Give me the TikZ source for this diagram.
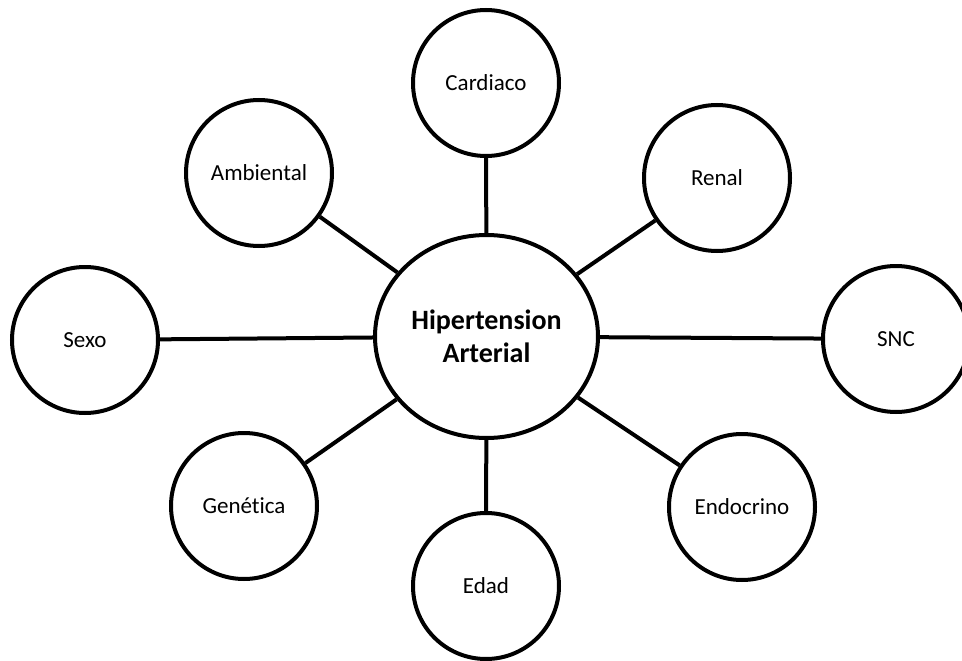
\documentclass[tikz,border=0pt]{standalone}
\usepackage{fontspec}
\setmainfont{Carlito}[Ligatures={NoCommon,NoRare}]
\usetikzlibrary{shapes.geometric}
\begin{document}
\begin{tikzpicture}[x=1pt,y=-1pt,
  leaf/.style={circle,draw=black,line width=4pt,minimum size=146pt,inner sep=0pt,fill=white,font=\fontsize{23}{27}\selectfont},
  hub/.style={ellipse,draw=black,line width=4pt,minimum width=223pt,minimum height=203pt,inner sep=0pt,fill=white,align=center,font=\fontsize{28}{33}\selectfont\bfseries},
  link/.style={line width=4pt,black}]
\path[use as bounding box] (0,0) rectangle (962,661);
\clip (0,0) rectangle (962,661);
\node[hub] (c) at (486.5,336.5) {Hipertension\\Arterial};
\node[leaf] (card) at (486,83) {Cardiaco};
\node[leaf] (amb) at (259,173) {Ambiental};
\node[leaf] (ren) at (717,178) {Renal};
\node[leaf] (sex) at (85,340) {Sexo};
\node[leaf] (snc) at (896,339) {SNC};
\node[leaf] (gen) at (244,506) {Genética};
\node[leaf] (eda) at (486,586) {Edad};
\node[leaf] (end) at (742,507) {Endocrino};
\foreach \n in {card,amb,ren,sex,snc,gen,eda,end}
  \draw[link] (c) -- (\n);
\end{tikzpicture}
\end{document}
